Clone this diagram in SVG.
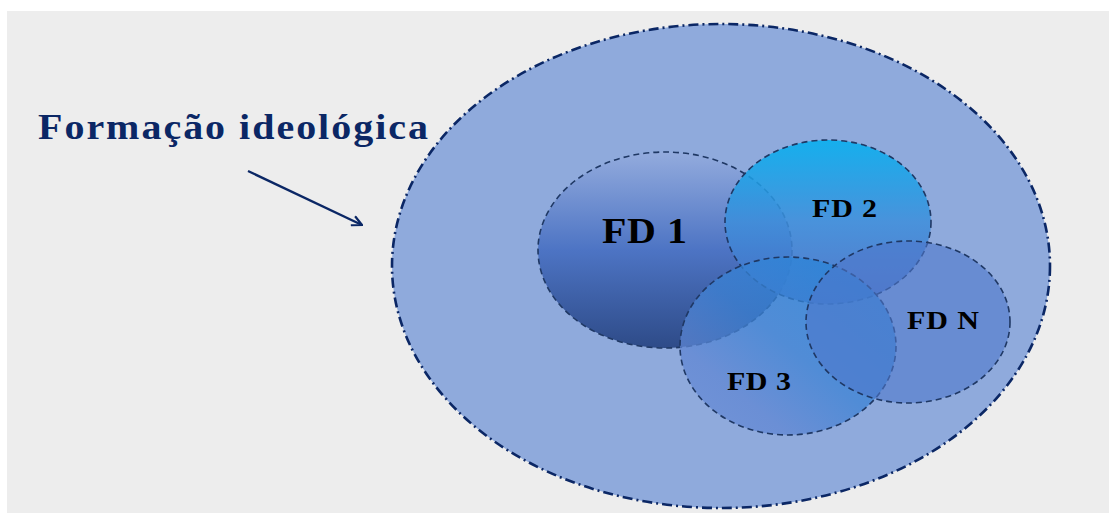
<svg xmlns="http://www.w3.org/2000/svg" width="1109" height="513" viewBox="0 0 1109 513">
<defs>
<style>
.inner{stroke:#1F3864;stroke-width:1.6;stroke-dasharray:6 4}
.lbl{font-family:"Liberation Serif","Times New Roman",serif;font-weight:bold;fill:#000}
</style>
<linearGradient id="g1" x1="0" y1="0" x2="0" y2="1">
<stop offset="0" stop-color="#93ABDD"/>
<stop offset="0.5" stop-color="#4D74C4"/>
<stop offset="1" stop-color="#2E4B88"/>
</linearGradient>
<linearGradient id="g2" x1="0" y1="0" x2="0" y2="1">
<stop offset="0" stop-color="#00B0F0"/>
<stop offset="0.5" stop-color="#3D8EDB"/>
<stop offset="1" stop-color="#4A6FC6"/>
</linearGradient>
<linearGradient id="g3" x1="1" y1="0" x2="0" y2="1">
<stop offset="0" stop-color="#1F86DA"/>
<stop offset="0.5" stop-color="#3C82D4"/>
<stop offset="0.75" stop-color="#5F86D3"/>
<stop offset="1" stop-color="#6A8DD6"/>
</linearGradient>
<marker id="ah" viewBox="0 0 12 12" refX="11" refY="6" markerWidth="12" markerHeight="12" markerUnits="userSpaceOnUse" orient="auto">
<path d="M1,1 L11,6 L1,11" fill="none" stroke="#0B2765" stroke-width="2.2"/>
</marker>
</defs>
<rect x="0" y="0" width="1109" height="513" fill="#FFFFFF"/>
<rect x="7" y="11" width="1102" height="502" fill="#EDEDED"/>
<g id="outer">
<ellipse cx="721" cy="266" rx="329" ry="242" fill="#8FAADC" stroke="#0B2765" stroke-width="2.6" stroke-dasharray="10 4 2 4"/>
</g>
<g id="label-fi">
<text transform="translate(38,139) scale(1,0.9)" x="0" y="0" font-family="Liberation Serif, Times New Roman, serif" font-weight="bold" font-size="40" fill="#0B2765" textLength="390" lengthAdjust="spacing">Formação ideológica</text>
</g>
<g id="connectors">
<line x1="248" y1="171" x2="362" y2="225" stroke="#0B2765" stroke-width="2.4" marker-end="url(#ah)"/>
</g>
<g id="fd1">
<ellipse cx="665" cy="250" rx="127" ry="98" fill="url(#g1)" class="inner"/>
<text transform="translate(602,243) scale(1,0.9)" x="0" y="0" class="lbl" font-size="40" textLength="85" lengthAdjust="spacing">FD 1</text>
</g>
<g id="fd2">
<ellipse cx="828" cy="222" rx="103" ry="82" fill="url(#g2)" fill-opacity="0.85" class="inner"/>
<text transform="translate(812,217) scale(1,0.85)" x="0" y="0" class="lbl" font-size="30" textLength="65" lengthAdjust="spacing">FD 2</text>
</g>
<g id="fd3">
<ellipse cx="788" cy="346" rx="108" ry="89" fill="url(#g3)" fill-opacity="0.75" class="inner"/>
<text transform="translate(727,390) scale(1,0.85)" x="0" y="0" class="lbl" font-size="30" textLength="64" lengthAdjust="spacing">FD 3</text>
</g>
<g id="fdn">
<ellipse cx="908" cy="322" rx="102" ry="81" fill="#4F78CC" fill-opacity="0.6" class="inner"/>
<text transform="translate(907,329) scale(1,0.85)" x="0" y="0" class="lbl" font-size="30" textLength="72" lengthAdjust="spacing">FD N</text>
</g>
</svg>
